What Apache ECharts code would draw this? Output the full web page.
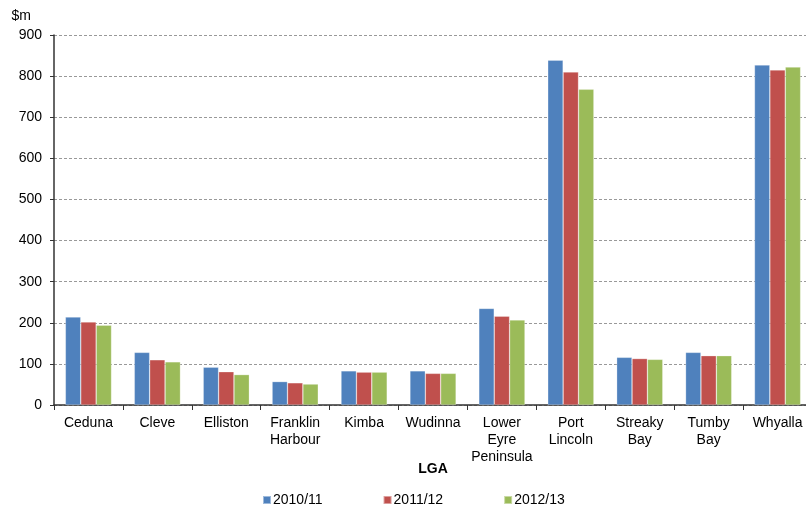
<!DOCTYPE html>
<html>
<head>
<meta charset="utf-8">
<script src="https://cdn.jsdelivr.net/npm/echarts@6/dist/echarts.min.js"></script>
<style>
  html, body { margin: 0; padding: 0; background: #fff; overflow: hidden; }
  /* the reference plot runs a few pixels past the right edge of the picture */
  #chart { width: 812px; height: 506px; }
</style>
</head>
<body>
<div id="chart"></div>
<script>
// LGA categories
var lgas = ['Ceduna', 'Cleve', 'Elliston', 'Franklin\nHarbour', 'Kimba', 'Wudinna',
  'Lower\nEyre\nPeninsula', 'Port\nLincoln', 'Streaky\nBay', 'Tumby\nBay', 'Whyalla']
// values in $m
var y2010 = [214, 128, 92, 57, 83, 83, 235, 839, 116, 128, 827]
var y2011 = [202, 110, 81, 54, 80, 77, 216, 810, 113, 120, 815]
var y2012 = [194, 105, 74, 51, 80, 77, 207, 768, 111, 120, 822]
var seriesNames = ['2010/11', '2011/12', '2012/13']
var colors = ['#4F81BD', '#C0504D', '#9BBB59']

var chart = echarts.init(document.getElementById('chart'))
var font = 'Liberation Sans, Arial, sans-serif'

function bar (name, data, i) {
    return {
        name: name,
        type: 'bar',
        data: data,
        barGap: '0%',
        barCategoryGap: '33%',
        itemStyle: { color: colors[i], borderColor: 'rgba(255,255,255,0.45)', borderWidth: 0.6 }
    }
}

var option = {
    animation: false,
    color: colors,
    textStyle: { fontFamily: font },
    grid: { left: 54, right: 0, top: 35, bottom: 101 },
    legend: {
        top: 488,
        left: 257,
        itemGap: 60,
        itemWidth: 8,
        itemHeight: 8,
        icon: 'rect',
        textStyle: { fontSize: 14, color: '#000', fontFamily: font, padding: [0, 0, 0, -3] },
        data: seriesNames
    },
    xAxis: {
        type: 'category',
        data: lgas,
        name: 'LGA',
        nameLocation: 'middle',
        nameGap: 57,
        nameMoveOverlap: false,
        nameTextStyle: { fontWeight: 'bold', fontSize: 14, color: '#000' },
        axisLine: { lineStyle: { color: '#333', width: 1.5 } },
        axisTick: { show: true, length: 5, lineStyle: { color: '#333' } },
        axisLabel: { fontSize: 14, color: '#000', lineHeight: 17, margin: 10, interval: 0 }
    },
    yAxis: {
        type: 'value',
        min: 0,
        max: 900,
        interval: 100,
        name: '$m',
        nameLocation: 'end',
        nameGap: 12,
        nameTextStyle: { fontSize: 14, color: '#000', align: 'right', padding: [0, 23, 0, 0] },
        axisLine: { show: true, lineStyle: { color: '#333', width: 1.5 } },
        axisTick: { show: true, length: 4, lineStyle: { color: '#333' } },
        axisLabel: { fontSize: 14, color: '#000', margin: 12 },
        splitLine: { lineStyle: { color: '#999', type: [3, 2], width: 1 } }
    },
    series: [
        bar(seriesNames[0], y2010, 0),
        bar(seriesNames[1], y2011, 1),
        bar(seriesNames[2], y2012, 2)
    ]
}
chart.setOption(option)
</script>
</body>
</html>
